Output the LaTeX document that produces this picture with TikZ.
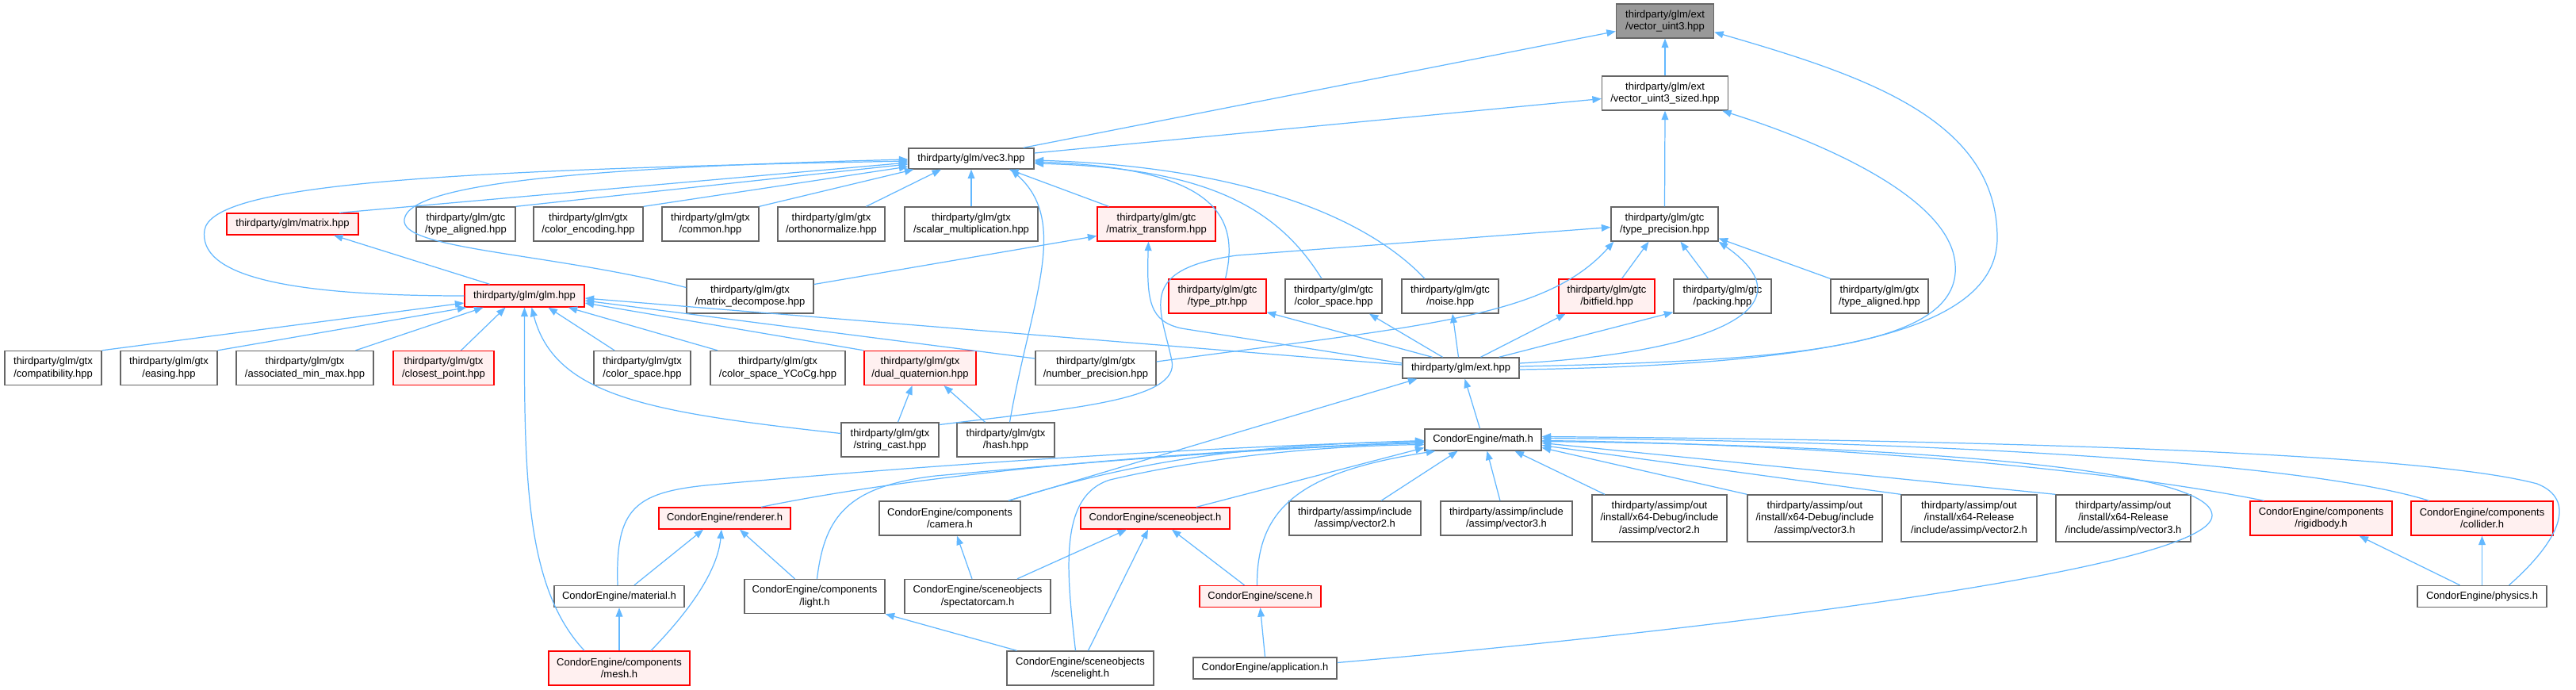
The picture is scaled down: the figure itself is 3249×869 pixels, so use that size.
\documentclass[tikz,border=0pt]{standalone}
\usepackage{fontspec}
\setmainfont{Liberation Sans}
\usetikzlibrary{arrows.meta,calc}
\definecolor{edgeblue}{HTML}{63B8FF}
\definecolor{nodegray}{HTML}{666666}
\definecolor{rootfill}{HTML}{999999}
\definecolor{redfill}{HTML}{FFF0F0}
\tikzset{
  fnode/.style={rectangle,draw=nodegray,fill=white,line width=0.8pt,inner sep=0pt,align=center,font=\fontsize{7.4}{8.9}\selectfont},
  rnode/.style={fnode,draw=red,fill=redfill},
  gnode/.style={fnode,fill=rootfill},
  wh/.style 2 args={minimum width=#1*0.02cm,minimum height=#2*0.02cm},
  dep/.style={-{Triangle[length=6.5pt,width=5pt]},draw=edgeblue,fill=none,line width=0.7pt}
}

\begin{document}
\begin{tikzpicture}[x=0.02cm,y=-0.02cm,dep/.append style={arrows={-{Triangle[length=6.5pt,width=5pt,fill=edgeblue]}}}]
\path[use as bounding box,fill=white] (0,0) rectangle (3249,869);

% files
\node[gnode,wh={123}{43}] (u3) at (2100,26.5) {thirdparty/glm/ext\\/vector\_uint3.hpp};
\node[fnode,wh={159}{43}] (u3s) at (2100,117.5) {thirdparty/glm/ext\\/vector\_uint3\_sized.hpp};
\node[fnode,wh={158}{26}] (vec3) at (1225,200) {thirdparty/glm/vec3.hpp};

\node[rnode,wh={166}{27}] (matrix) at (369,282.5) {thirdparty/glm/matrix.hpp};
\node[fnode,wh={125}{43}] (tac) at (587.5,282.5) {thirdparty/glm/gtc\\/type\_aligned.hpp};
\node[fnode,wh={138}{43}] (colenc) at (742,282.5) {thirdparty/glm/gtx\\/color\_encoding.hpp};
\node[fnode,wh={122}{43}] (common) at (896,282.5) {thirdparty/glm/gtx\\/common.hpp};
\node[fnode,wh={135}{43}] (ortho) at (1048.5,282.5) {thirdparty/glm/gtx\\/orthonormalize.hpp};
\node[fnode,wh={168}{43}] (scalar) at (1225,282.5) {thirdparty/glm/gtx\\/scalar\_multiplication.hpp};
\node[rnode,wh={149}{43}] (mtrans) at (1458.5,282.5) {thirdparty/glm/gtc\\/matrix\_transform.hpp};
\node[fnode,wh={135}{43}] (tprec) at (2099.5,282.5) {thirdparty/glm/gtc\\/type\_precision.hpp};

\node[rnode,wh={151}{28}] (glm) at (661.5,373) {thirdparty/glm/glm.hpp};
\node[fnode,wh={160}{43}] (mdecomp) at (946,373.5) {thirdparty/glm/gtx\\/matrix\_decompose.hpp};
\node[rnode,wh={123}{43}] (tptr) at (1535.5,373.5) {thirdparty/glm/gtc\\/type\_ptr.hpp};
\node[fnode,wh={122}{43}] (cspc) at (1682,373.5) {thirdparty/glm/gtc\\/color\_space.hpp};
\node[fnode,wh={122}{43}] (noise) at (1829,373.5) {thirdparty/glm/gtc\\/noise.hpp};
\node[rnode,wh={121}{43}] (bitf) at (2026.5,373.5) {thirdparty/glm/gtc\\/bitfield.hpp};
\node[fnode,wh={123}{43}] (pack) at (2172.5,373.5) {thirdparty/glm/gtc\\/packing.hpp};
\node[fnode,wh={123}{43}] (tax) at (2370.5,373.5) {thirdparty/glm/gtx\\/type\_aligned.hpp};

\node[fnode,wh={122}{43}] (compat) at (67,464) {thirdparty/glm/gtx\\/compatibility.hpp};
\node[fnode,wh={122}{43}] (easing) at (213,464) {thirdparty/glm/gtx\\/easing.hpp};
\node[fnode,wh={173}{43}] (minmax) at (384.5,464) {thirdparty/glm/gtx\\/associated\_min\_max.hpp};
\node[rnode,wh={127}{43}] (closest) at (559.5,464) {thirdparty/glm/gtx\\/closest\_point.hpp};
\node[fnode,wh={122}{43}] (cspx) at (810,464) {thirdparty/glm/gtx\\/color\_space.hpp};
\node[fnode,wh={170}{43}] (ycocg) at (981,464) {thirdparty/glm/gtx\\/color\_space\_YCoCg.hpp};
\node[rnode,wh={141}{43}] (dualq) at (1160.5,464) {thirdparty/glm/gtx\\/dual\_quaternion.hpp};
\node[fnode,wh={152}{43}] (numprec) at (1382,464) {thirdparty/glm/gtx\\/number\_precision.hpp};
\node[fnode,wh={147}{26}] (ext) at (1842.5,464) {thirdparty/glm/ext.hpp};

\node[fnode,wh={123}{43}] (strcast) at (1122.5,554.5) {thirdparty/glm/gtx\\/string\_cast.hpp};
\node[fnode,wh={123}{43}] (hash) at (1268.5,554.5) {thirdparty/glm/gtx\\/hash.hpp};
\node[fnode,wh={147}{27}] (math) at (1870.5,554.5) {CondorEngine/math.h};

\node[rnode,wh={166}{27}] (renderer) at (914,653.5) {CondorEngine/renderer.h};
\node[fnode,wh={178}{43}] (camera) at (1198,653.5) {CondorEngine/components\\/camera.h};
\node[rnode,wh={188}{27}] (sceneobj) at (1457,653.5) {CondorEngine/sceneobject.h};
\node[fnode,wh={166}{43}] (incv2) at (1709,653.5) {thirdparty/assimp/include\\/assimp/vector2.h};
\node[fnode,wh={166}{43}] (incv3) at (1900,653.5) {thirdparty/assimp/include\\/assimp/vector3.h};
\node[fnode,wh={170}{59}] (dbgv2) at (2093,653.5) {thirdparty/assimp/out\\/install/x64-Debug/include\\/assimp/vector2.h};
\node[fnode,wh={170}{59}] (dbgv3) at (2289,653.5) {thirdparty/assimp/out\\/install/x64-Debug/include\\/assimp/vector3.h};
\node[fnode,wh={171}{59}] (relv2) at (2483.5,653.5) {thirdparty/assimp/out\\/install/x64-Release\\/include/assimp/vector2.h};
\node[fnode,wh={170}{59}] (relv3) at (2678,653.5) {thirdparty/assimp/out\\/install/x64-Release\\/include/assimp/vector3.h};
\node[rnode,wh={179}{43}] (rigid) at (2927.5,653.5) {CondorEngine/components\\/rigidbody.h};
\node[rnode,wh={179}{43}] (collider) at (3130.5,653.5) {CondorEngine/components\\/collider.h};

\node[fnode,wh={164}{27}] (material) at (781,752) {CondorEngine/material.h};
\node[fnode,wh={177}{43}] (light) at (1027.5,752) {CondorEngine/components\\/light.h};
\node[fnode,wh={184}{43}] (spectcam) at (1233,752) {CondorEngine/sceneobjects\\/spectatorcam.h};
\node[rnode,wh={153}{27}] (scene) at (1589.5,752) {CondorEngine/scene.h};
\node[fnode,wh={163}{27}] (physics) at (3130.5,752) {CondorEngine/physics.h};

\node[rnode,wh={178}{43}] (mesh) at (781,842.5) {CondorEngine/components\\/mesh.h};
\node[fnode,wh={185}{43}] (scenelight) at (1362.5,842.5) {CondorEngine/sceneobjects\\/scenelight.h};
\node[fnode,wh={181}{27}] (app) at (1595.5,842.5) {CondorEngine/application.h};

% includes (arrow points at the included file)
\draw[dep] (u3s.north) -- (u3.south);
\draw[dep] ($(vec3.north east)+(-14,0)$) -- ($(u3.west)+(0,13)$);
\draw[dep] ($(vec3.east)+(0,-7)$) -- ($(u3s.west)+(0,7)$);
\draw[dep] (tprec.north) -- (u3s.south);
\draw[dep] ($(ext.east)+(0,2)$) .. controls (2300,460) and (2519,420) .. (2519,300) .. controls (2519,150) and (2350,95) .. ($(u3.east)+(0,14)$);
\draw[dep] ($(ext.east)+(0,-2)$) .. controls (2250,455) and (2475,440) .. (2466,333) .. controls (2460,250) and (2300,180) .. ($(u3s.south east)+(-8,0)$);

\draw[dep] ($(matrix.north)+(59,0)$) -- ($(vec3.west)+(0,5)$);
\draw[dep] (tac.north east) -- ($(vec3.west)+(0,7)$);
\draw[dep] (colenc.north east) -- ($(vec3.west)+(0,10)$);
\draw[dep] (common.north east) -- ($(vec3.south west)+(7,0)$);
\draw[dep] ($(ortho.north)+(44,0)$) -- ($(vec3.south)+(-38,0)$);
\draw[dep] (scalar.north) -- (vec3.south);
\draw[dep] ($(mtrans.north)+(-60,0)$) -- ($(vec3.south)+(48,0)$);
\draw[dep] ($(hash.north)+(5,0)$) .. controls (1300,380) and (1350,280) .. ($(vec3.south)+(50,0)$);
\draw[dep] ($(tptr.north)+(10,0)$) .. controls (1565,270) and (1530,212) .. ($(vec3.east)+(0,4)$);
\draw[dep] ($(cspc.north)+(-15,0)$) .. controls (1610,260) and (1520,212) .. ($(vec3.east)+(0,6)$);
\draw[dep] ($(noise.north)+(-32,0)$) .. controls (1720,270) and (1560,210) .. ($(vec3.east)+(0,2)$);
\draw[dep] (glm.west) .. controls (350,373) and (250,345) .. (258,290) .. controls (268,235) and (520,215) .. ($(vec3.west)+(0,3)$);
\draw[dep] ($(mdecomp.west)+(0,-11)$) .. controls (700,320) and (515,315) .. (510,280) .. controls (505,235) and (700,212) .. ($(vec3.west)+(0,1)$);

\draw[dep] ($(mdecomp.east)+(0,-15)$) -- ($(mtrans.west)+(0,15)$);
\draw[dep] ($(glm.north)+(-44,0)$) -- ($(matrix.south)+(52,0)$);

\draw[dep] (compat.north east) -- ($(glm.west)+(0,9)$);
\draw[dep] (easing.north east) -- ($(glm.south west)+(3,0)$);
\draw[dep] ($(minmax.north)+(64,0)$) -- ($(glm.south)+(-52,0)$);
\draw[dep] ($(closest.north)+(22,0)$) -- ($(glm.south)+(-24,0)$);
\draw[dep] ($(mesh.north)+(-44,0)$) .. controls (662,740) and (661,600) .. (glm.south);
\draw[dep] ($(strcast.west)+(0,-8)$) .. controls (820,520) and (700,500) .. ($(glm.south)+(9,0)$);
\draw[dep] ($(cspx.north)+(-35,0)$) -- ($(glm.south)+(30,0)$);
\draw[dep] ($(ycocg.north)+(-76,0)$) -- ($(glm.south east)+(-21,0)$);
\draw[dep] (dualq.north west) -- ($(glm.east)+(0,9)$);
\draw[dep] ($(numprec.west)+(0,-12)$) -- ($(glm.east)+(0,6)$);
\draw[dep] ($(ext.west)+(0,-4)$) -- ($(glm.east)+(0,3)$);

\draw[dep] ($(ext.north)+(-36,0)$) -- ($(tptr.south east)+(0,-2)$);
\draw[dep] ($(ext.north)+(-23,0)$) -- ($(cspc.south)+(45,0)$);
\draw[dep] ($(ext.north)+(-3,0)$) -- ($(noise.south)+(3,0)$);
\draw[dep] ($(ext.north)+(25,0)$) -- ($(bitf.south)+(-52,0)$);
\draw[dep] ($(ext.north east)+(-26,0)$) -- ($(pack.south west)+(0,-2)$);
\draw[dep] ($(ext.east)+(0,-6)$) .. controls (2150,445) and (2290,390) .. (tprec.south east);
\draw[dep] ($(ext.west)+(0,-6)$) -- (1490,414) .. controls (1450,405) and (1446,380) .. ($(mtrans.south)+(-10,0)$);

\draw[dep] ($(bitf.north)+(19,0)$) -- ($(tprec.south)+(-20,0)$);
\draw[dep] ($(pack.north)+(-18,0)$) -- ($(tprec.south)+(20,0)$);
\draw[dep] (tax.north west) -- ($(tprec.east)+(0,18)$);
\draw[dep] ($(numprec.east)+(0,-8)$) .. controls (1800,410) and (1950,400) .. ($(tprec.south west)+(4,0)$);
\draw[dep] ($(strcast.east)+(0,-19)$) .. controls (1350,515) and (1488,505) .. (1478,455) .. controls (1465,390) and (1430,340) .. (1560,322) -- ($(tprec.west)+(0,4)$);

\draw[dep] ($(math.north)+(-4,0)$) -- ($(ext.south)+(5,0)$);
\draw[dep] ($(camera.north)+(74,0)$) -- ($(ext.south west)+(19,0)$);
\draw[dep] ($(camera.north)+(74,0)$) .. controls (1450,575) and (1600,560) .. ($(math.west)+(0,2)$);
\draw[dep] ($(material.north)+(-2,0)$) .. controls (776,640) and (800,620) .. (900,611) .. controls (1300,575) and (1600,562) .. ($(math.west)+(0,1)$);
\draw[dep] ($(renderer.north)+(46,0)$) .. controls (1150,600) and (1450,570) .. ($(math.west)+(0,3)$);
\draw[dep] ($(light.north)+(3,0)$) .. controls (1040,650) and (1070,613) .. (1180,600) .. controls (1400,580) and (1600,565) .. ($(math.west)+(0,4)$);
\draw[dep] ($(sceneobj.north)+(52,0)$) -- ($(math.west)+(0,10)$);
\draw[dep] ($(scenelight.north)+(-6,0)$) .. controls (1345,720) and (1335,625) .. (1400,605) .. controls (1550,570) and (1700,562) .. ($(math.west)+(0,6)$);
\draw[dep] ($(scene.north)+(-4,0)$) .. controls (1585,640) and (1640,595) .. ($(math.south west)+(14,0)$);
\draw[dep] ($(incv2.north)+(33,0)$) -- ($(math.south)+(-32,0)$);
\draw[dep] ($(incv3.north)+(-8,0)$) -- ($(math.south)+(5,0)$);
\draw[dep] ($(dbgv2.north)+(-69,0)$) -- ($(math.south)+(40,0)$);
\draw[dep] (dbgv3.north west) -- ($(math.east)+(0,10)$);
\draw[dep] (relv2.north west) -- ($(math.east)+(0,7)$);
\draw[dep] (relv3.north west) -- ($(math.east)+(0,4)$);
\draw[dep] ($(rigid.north)+(-72,0)$) .. controls (2650,590) and (2300,560) .. ($(math.east)+(0,1)$);
\draw[dep] ($(collider.north)+(-67,0)$) .. controls (2900,580) and (2400,556) .. ($(math.east)+(0,-2)$);
\draw[dep] ($(physics.north)+(34,0)$) .. controls (3230,680) and (3250,630) .. (3200,610) .. controls (3050,570) and (2500,555) .. ($(math.east)+(0,-4)$);
\draw[dep] ($(app.east)+(0,-7)$) .. controls (2100,800) and (2790,720) .. (2790,650) .. controls (2790,590) and (2400,562) .. ($(math.east)+(0,2)$);

\draw[dep] ($(mesh.north)+(40,0)$) .. controls (870,770) and (905,720) .. ($(renderer.south)+(-4,0)$);
\draw[dep] (mesh.north) -- (material.south);
\draw[dep] ($(material.north)+(19,0)$) -- ($(renderer.south)+(-27,0)$);
\draw[dep] ($(light.north)+(-25,0)$) -- ($(renderer.south)+(19,0)$);
\draw[dep] ($(scenelight.north)+(-80,0)$) -- (light.south east);
\draw[dep] ($(scenelight.north)+(10,0)$) -- ($(sceneobj.south)+(-9,0)$);
\draw[dep] ($(spectcam.north)+(-7,0)$) -- ($(camera.south)+(9,0)$);
\draw[dep] ($(spectcam.north)+(50,0)$) -- ($(sceneobj.south)+(-36,0)$);
\draw[dep] ($(scene.north)+(-20,0)$) -- ($(sceneobj.south)+(21,0)$);
\draw[dep] (app.north) -- (scene.south);
\draw[dep] ($(physics.north)+(-28,0)$) -- ($(rigid.south)+(48,0)$);
\draw[dep] (physics.north) -- (collider.south);
\draw[dep] ($(strcast.north)+(10,0)$) -- ($(dualq.south)+(-10,0)$);
\draw[dep] ($(hash.north)+(-26,0)$) -- ($(dualq.south)+(30,0)$);
\end{tikzpicture}
\end{document}
